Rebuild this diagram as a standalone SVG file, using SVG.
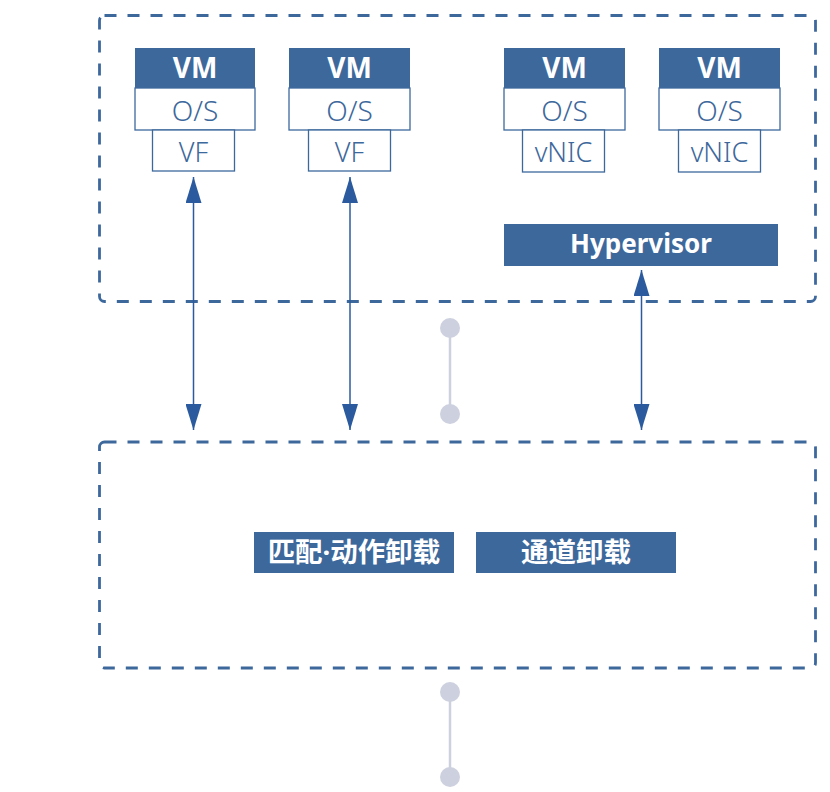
<svg xmlns="http://www.w3.org/2000/svg" width="830" height="792" viewBox="0 0 830 792">
<defs>
<style>
.dash{fill:none;stroke:#3d689c;stroke-width:2.8;stroke-dasharray:12 11}
.hdr{fill:#3d689c}
.box{fill:#fff;stroke:#3d689c;stroke-width:1.3}
.ht{fill:#fff;font-family:"Noto Sans","Noto Sans CJK SC",sans-serif;font-weight:bold;font-size:28px;text-anchor:middle}
.hv{fill:#fff;font-family:"Noto Sans",sans-serif;font-weight:bold;font-size:26px;text-anchor:middle}
.bt{fill:#3d689c;font-family:"Noto Sans","Noto Sans CJK SC",sans-serif;font-weight:300;font-size:28px;text-anchor:middle}
.st{fill:#3d689c;font-family:"Noto Sans",sans-serif;font-weight:300;font-size:27px;text-anchor:middle}
.ct{fill:#fff;font-family:"Noto Sans","Noto Sans CJK SC",sans-serif;font-weight:bold;font-size:27.5px;text-anchor:middle}
.arr{stroke:#2b5b9e;stroke-width:1.5;fill:none}
.g{stroke:#cdd0de;stroke-width:2.5}
.gc{fill:#cdd0de}
</style>
<marker id="ah" viewBox="0 0 26 16" refX="26" refY="8" markerWidth="26" markerHeight="16" markerUnits="userSpaceOnUse" orient="auto">
<path d="M0,0 L26,8 L0,16 Z" fill="#2b5b9e"/>
</marker>
</defs>
<rect class="dash" x="99.5" y="15.5" width="716" height="286" rx="5"/>
<rect class="dash" x="99.5" y="442" width="716" height="226" rx="5"/>
<g id="vm1">
<rect class="hdr" x="135" y="48" width="120" height="40"/>
<text class="ht" x="195" y="78">VM</text>
<rect class="box" x="135" y="88" width="120" height="42"/>
<text class="bt" x="195" y="121">O/S</text>
<rect class="box" x="152.5" y="130" width="82" height="41"/>
<text class="st" x="193.5" y="162">VF</text>
</g>
<g id="vm2">
<rect class="hdr" x="289" y="48" width="121" height="40"/>
<text class="ht" x="349.5" y="78">VM</text>
<rect class="box" x="289" y="88" width="121" height="42"/>
<text class="bt" x="349.5" y="121">O/S</text>
<rect class="box" x="308.5" y="130" width="82" height="41"/>
<text class="st" x="349.5" y="162">VF</text>
</g>
<g id="vm3">
<rect class="hdr" x="504" y="48" width="121" height="40"/>
<text class="ht" x="564.5" y="78">VM</text>
<rect class="box" x="504" y="88" width="121" height="42"/>
<text class="bt" x="564.5" y="121">O/S</text>
<rect class="box" x="522.5" y="130" width="82" height="42"/>
<text class="st" x="563.5" y="162">vNIC</text>
</g>
<g id="vm4">
<rect class="hdr" x="659" y="48" width="121" height="40"/>
<text class="ht" x="719.5" y="78">VM</text>
<rect class="box" x="659" y="88" width="121" height="42"/>
<text class="bt" x="719.5" y="121">O/S</text>
<rect class="box" x="678.5" y="130" width="82" height="42"/>
<text class="st" x="719.5" y="162">vNIC</text>
</g>
<g id="hypervisor">
<rect class="hdr" x="504" y="224" width="274" height="42"/>
<text class="hv" x="641" y="253">Hypervisor</text>
</g>
<g id="match">
<rect class="hdr" x="254" y="532" width="200" height="41"/>
<text class="ct" x="354" y="562">匹配·动作卸载</text>
</g>
<g id="tunnel">
<rect class="hdr" x="476" y="532" width="200" height="41"/>
<text class="ct" x="576" y="562">通道卸载</text>
</g>
<g id="connectors">
<line class="arr" x1="193.5" y1="300" x2="193.5" y2="177" marker-end="url(#ah)"/>
<line class="arr" x1="193.5" y1="300" x2="193.5" y2="430" marker-end="url(#ah)"/>
<line class="arr" x1="350" y1="300" x2="350" y2="177" marker-end="url(#ah)"/>
<line class="arr" x1="350" y1="300" x2="350" y2="430" marker-end="url(#ah)"/>
<line class="arr" x1="641.5" y1="340" x2="641.5" y2="270" marker-end="url(#ah)"/>
<line class="arr" x1="641.5" y1="340" x2="641.5" y2="430" marker-end="url(#ah)"/>
<line class="g" x1="450" y1="328" x2="450" y2="414"/>
<circle class="gc" cx="450" cy="328" r="10"/>
<circle class="gc" cx="450" cy="414" r="10"/>
<line class="g" x1="450" y1="692" x2="450" y2="777"/>
<circle class="gc" cx="450" cy="692" r="10"/>
<circle class="gc" cx="450" cy="777" r="10"/>
</g>
</svg>
